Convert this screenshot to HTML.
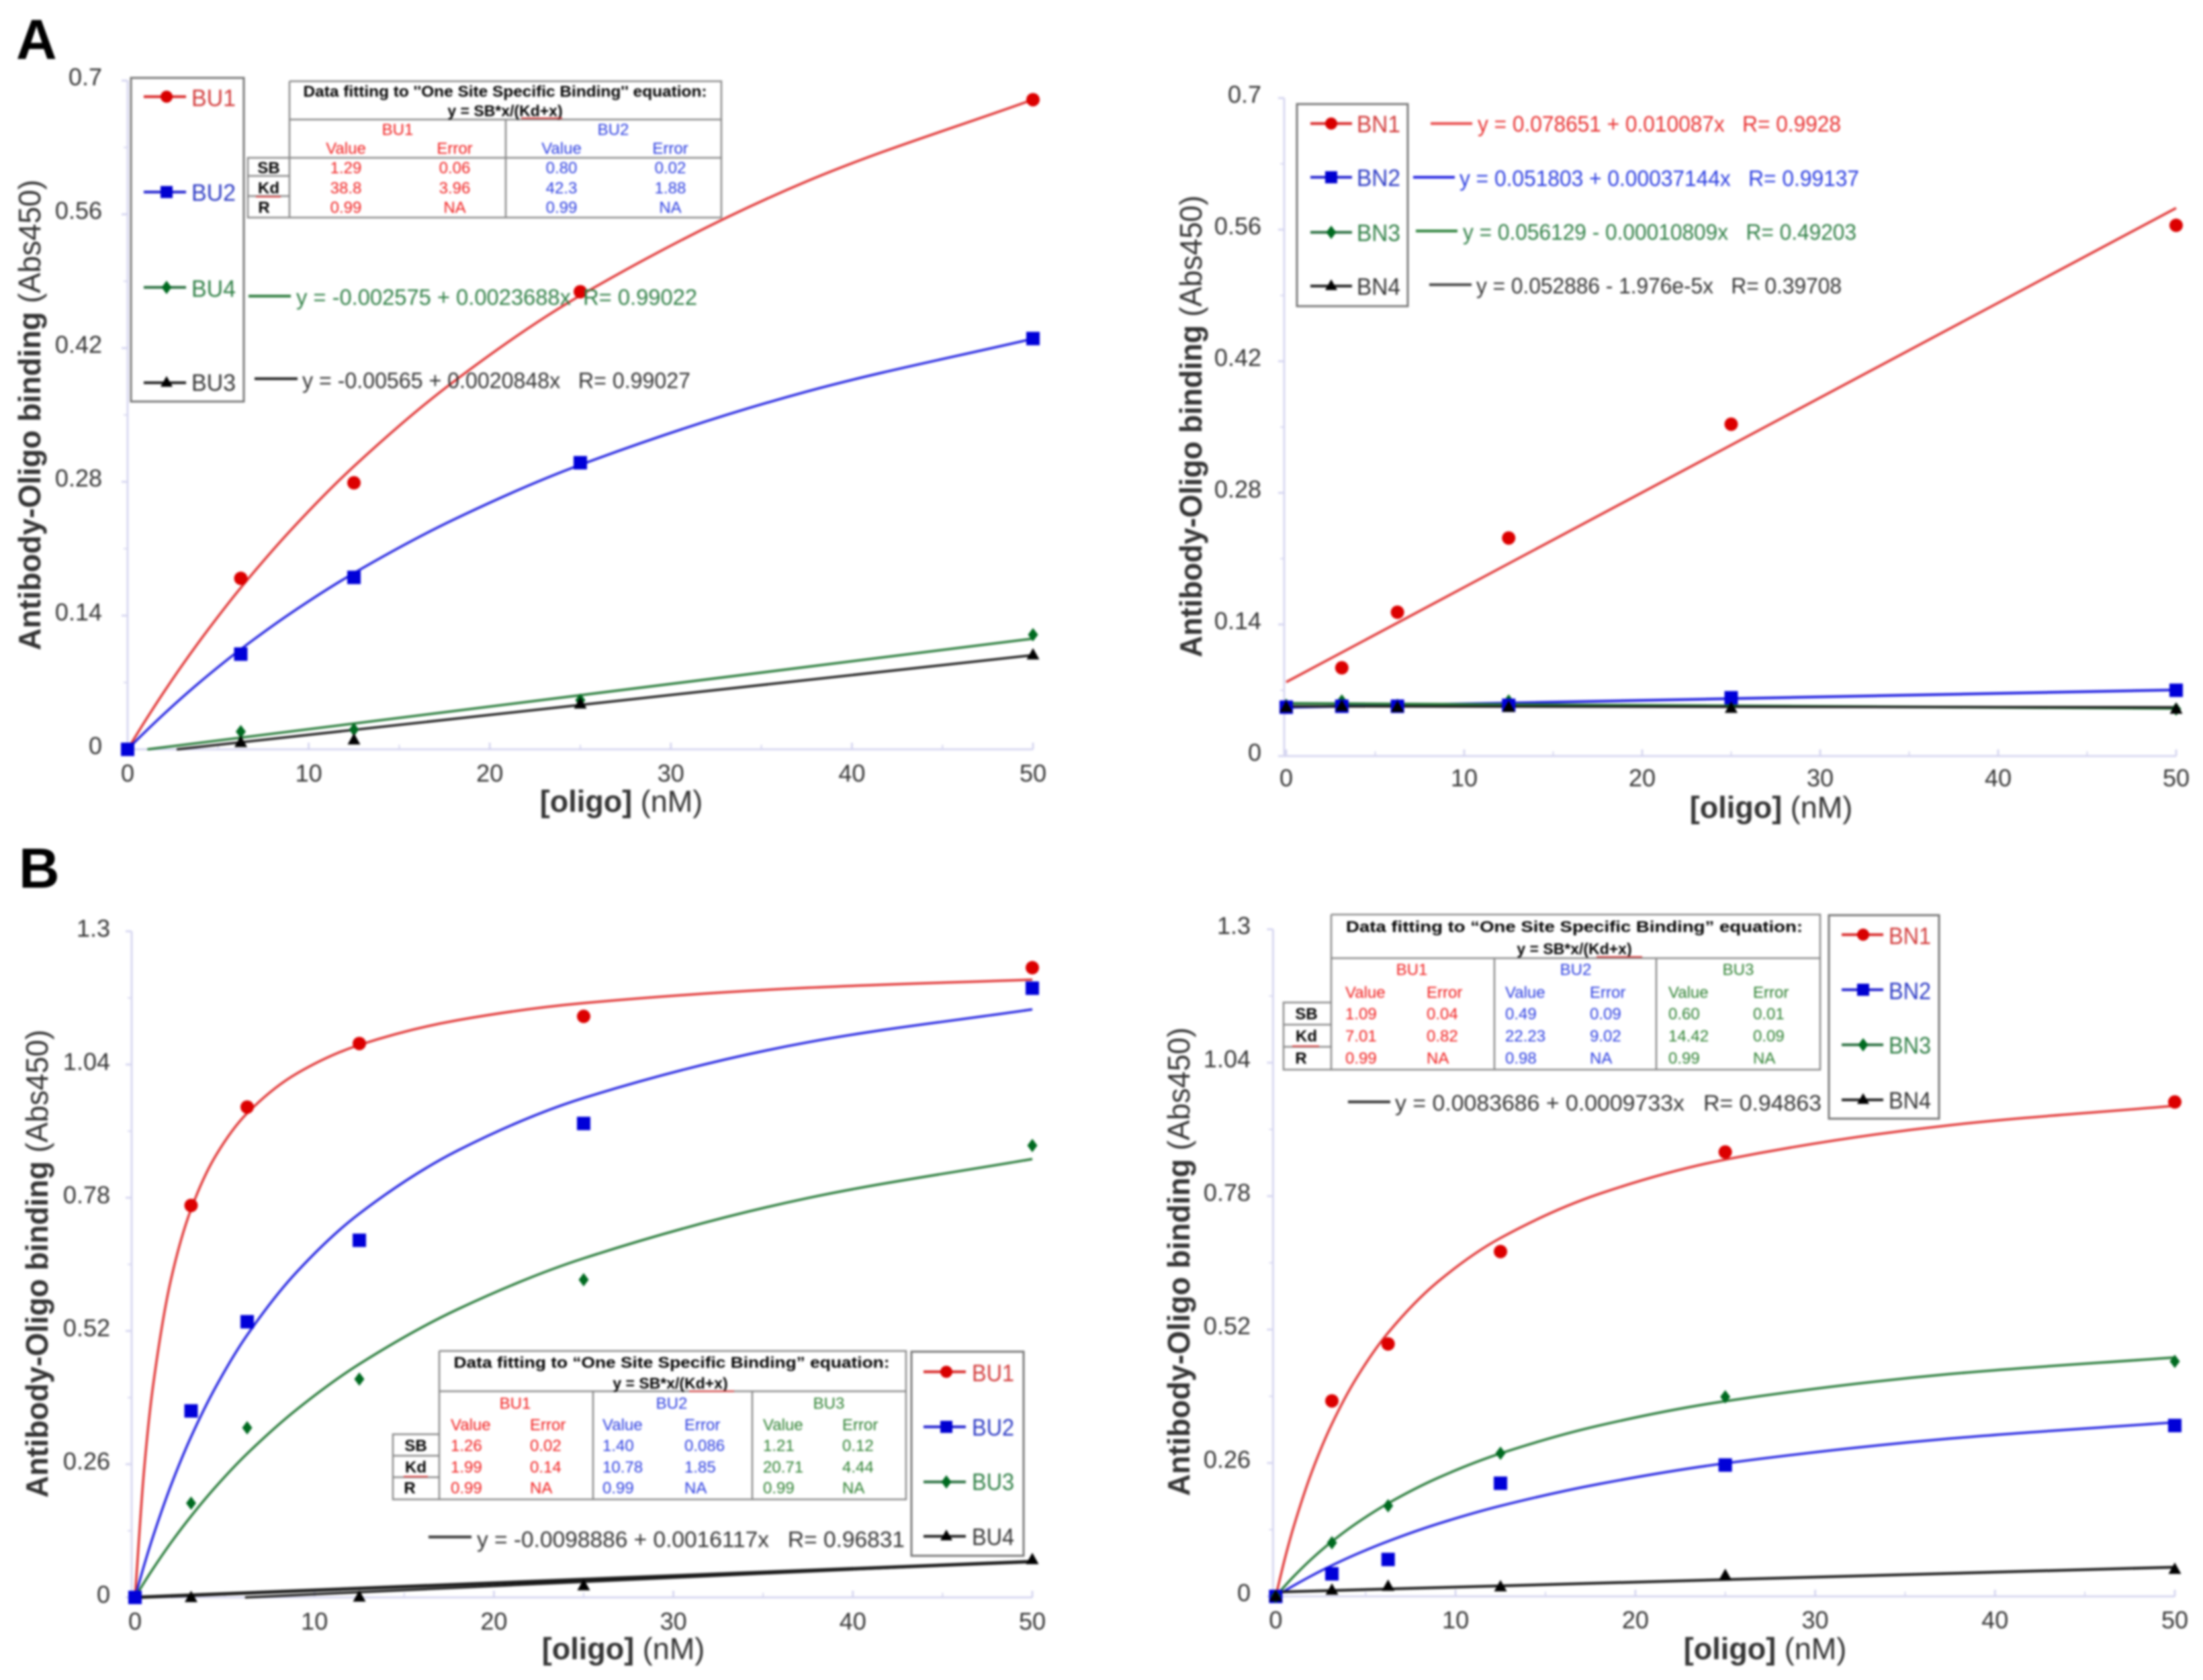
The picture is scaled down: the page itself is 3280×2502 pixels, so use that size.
<!DOCTYPE html>
<html>
<head>
<meta charset="utf-8">
<title>Antibody-Oligo binding charts</title>
<style>
html,body{margin:0;padding:0;background:#fff;}
svg{display:block;filter:blur(1.5px);}
text{font-family:"Liberation Sans",sans-serif;fill:#333;white-space:pre;}
.tick{font-size:36px;}
.axt{font-size:45px;}
.ylab{font-size:46px;}
.leg{font-size:35px;}
.eq{font-size:33px;}
.tb{font-size:24px;}
.ttl{font-size:23px;font-weight:bold;fill:#000;}
.hdr{font-size:24px;font-weight:bold;fill:#000;}
.r{fill:#f01c1c;}
.b{fill:#2a3ce0;}
.g{fill:#2c8030;}
.lr{fill:#d23a3a;}
.lb{fill:#2c3ac4;}
.lg{fill:#2f7f45;}
.tl{stroke:#888;stroke-width:2.5;fill:none;}
.box{fill:#fff;stroke:#777;stroke-width:3;}
.sq{stroke:#d33;stroke-width:2;}
</style>
</head>
<body>
<svg xmlns="http://www.w3.org/2000/svg" width="3280" height="2502" viewBox="0 0 3280 2502">
<rect width="3280" height="2502" fill="#fff"/>

<text x="24" y="88" font-size="84" font-weight="bold" style="fill:#000">A</text>
<text x="28" y="1322" font-size="84" font-weight="bold" style="fill:#000">B</text>

<g id="chart-a-left"></g>
<g id="chart-a-right"></g>
<g id="chart-b-left"></g>
<g id="chart-b-right"></g>

<!-- Axis titles -->
<text class="axt" x="925" y="1209" text-anchor="middle"><tspan font-weight="bold">[oligo]</tspan> (nM)</text>
<text class="axt" x="2637" y="1218" text-anchor="middle"><tspan font-weight="bold">[oligo]</tspan> (nM)</text>
<text class="axt" x="928" y="2471" text-anchor="middle"><tspan font-weight="bold">[oligo]</tspan> (nM)</text>
<text class="axt" x="2628" y="2471" text-anchor="middle"><tspan font-weight="bold">[oligo]</tspan> (nM)</text>

<text class="ylab" transform="translate(60 618) rotate(-90)" text-anchor="middle" textLength="701" lengthAdjust="spacingAndGlyphs"><tspan font-weight="bold">Antibody-Oligo binding</tspan> (Abs450)</text>
<text class="ylab" transform="translate(1789 635) rotate(-90)" text-anchor="middle" textLength="688" lengthAdjust="spacingAndGlyphs"><tspan font-weight="bold">Antibody-Oligo binding</tspan> (Abs450)</text>
<text class="ylab" transform="translate(71 1882) rotate(-90)" text-anchor="middle" textLength="697" lengthAdjust="spacingAndGlyphs"><tspan font-weight="bold">Antibody-Oligo binding</tspan> (Abs450)</text>
<text class="ylab" transform="translate(1771 1879) rotate(-90)" text-anchor="middle" textLength="698" lengthAdjust="spacingAndGlyphs"><tspan font-weight="bold">Antibody-Oligo binding</tspan> (Abs450)</text>

<!-- Legend A left -->
<g>
<rect class="box" x="195" y="116" width="168" height="482"/>
<g><line x1="214" x2="277" y1="144" y2="144" stroke="#d82a2a" stroke-width="4"/><circle cx="248" cy="144" r="9" fill="#d80000"/><text class="leg lr" x="285" y="158" textLength="66" lengthAdjust="spacingAndGlyphs">BU1</text></g>
<g><line x1="214" x2="277" y1="286" y2="286" stroke="#2222d0" stroke-width="4"/><rect x="239" y="277" width="18" height="18" fill="#0000d0"/><text class="leg lb" x="285" y="299" textLength="66" lengthAdjust="spacingAndGlyphs">BU2</text></g>
<g><line x1="214" x2="277" y1="428" y2="428" stroke="#2a7040" stroke-width="4"/><path d="M248 418l7.5 10-7.5 10-7.5-10z" fill="#006a20"/><text class="leg lg" x="285" y="442" textLength="66" lengthAdjust="spacingAndGlyphs">BU4</text></g>
<g><line x1="214" x2="277" y1="570" y2="570" stroke="#222" stroke-width="4"/><path d="M248 560l9 16h-18z" fill="#000"/><text class="leg" x="285" y="582" textLength="66" lengthAdjust="spacingAndGlyphs">BU3</text></g>
</g>

<!-- Equations A left -->
<g><line x1="370" x2="433" y1="441" y2="441" stroke="#2a7a3a" stroke-width="4"/><text class="eq lg" x="441" y="454" textLength="597" lengthAdjust="spacingAndGlyphs">y = -0.002575 + 0.0023688x  R= 0.99022</text></g>
<g><line x1="379" x2="443" y1="564" y2="564" stroke="#222" stroke-width="4"/><text class="eq" x="450" y="578" textLength="578" lengthAdjust="spacingAndGlyphs">y = -0.00565 + 0.0020848x   R= 0.99027</text></g>

<!-- Table A left -->
<g>
<rect x="431" y="121" width="643" height="203" fill="#fff"/>
<rect x="369" y="235" width="62" height="89" fill="#fff"/>
<path class="tl" d="M431 121H1074V324H369V235H1074M431 178H1074M431 121V324M753 178V324M369 262H431M369 292H431"/>
<text class="ttl" x="752" y="144" text-anchor="middle" textLength="601" lengthAdjust="spacingAndGlyphs">Data fitting to ''One Site Specific Binding'' equation:</text>
<text class="ttl" x="752" y="173" text-anchor="middle">y = SB*x/(Kd+x)</text>
<line class="sq" x1="776" x2="837" y1="176" y2="176"/>
<line class="sq" x1="381" x2="418" y1="293" y2="293"/>
<text class="tb r" x="592" y="201" text-anchor="middle">BU1</text>
<text class="tb b" x="913" y="201" text-anchor="middle">BU2</text>
<g text-anchor="middle">
<text class="tb r" x="515" y="229">Value</text>
<text class="tb r" x="677" y="229">Error</text>
<text class="tb b" x="836" y="229">Value</text>
<text class="tb b" x="998" y="229">Error</text>
<text class="hdr" x="400" y="258">SB</text>
<text class="hdr" x="400" y="288">Kd</text>
<text class="hdr" x="393" y="317">R</text>
<text class="tb r" x="515" y="258">1.29</text>
<text class="tb r" x="677" y="258">0.06</text>
<text class="tb b" x="836" y="258">0.80</text>
<text class="tb b" x="998" y="258">0.02</text>
<text class="tb r" x="515" y="288">38.8</text>
<text class="tb r" x="677" y="288">3.96</text>
<text class="tb b" x="836" y="288">42.3</text>
<text class="tb b" x="998" y="288">1.88</text>
<text class="tb r" x="515" y="317">0.99</text>
<text class="tb r" x="677" y="317">NA</text>
<text class="tb b" x="836" y="317">0.99</text>
<text class="tb b" x="998" y="317">NA</text>
</g>
</g>

<!-- Legend A right -->
<g>
<rect class="box" x="1931" y="155" width="165" height="301"/>
<g><line x1="1951" x2="2013" y1="184" y2="184" stroke="#d82a2a" stroke-width="4"/><circle cx="1982" cy="184" r="9" fill="#d80000"/><text class="leg lr" x="2020" y="197" textLength="65" lengthAdjust="spacingAndGlyphs">BN1</text></g>
<g><line x1="1951" x2="2013" y1="264" y2="264" stroke="#2222d0" stroke-width="4"/><rect x="1973" y="255" width="18" height="18" fill="#0000d0"/><text class="leg lb" x="2020" y="277" textLength="65" lengthAdjust="spacingAndGlyphs">BN2</text></g>
<g><line x1="1951" x2="2013" y1="346" y2="346" stroke="#2a7040" stroke-width="4"/><path d="M1982 336l7.5 10-7.5 10-7.5-10z" fill="#006a20"/><text class="leg lg" x="2020" y="359" textLength="65" lengthAdjust="spacingAndGlyphs">BN3</text></g>
<g><line x1="1951" x2="2013" y1="426" y2="426" stroke="#222" stroke-width="4"/><path d="M1982 416l9 16h-18z" fill="#000"/><text class="leg" x="2020" y="439" textLength="65" lengthAdjust="spacingAndGlyphs">BN4</text></g>
</g>
<g><line x1="2130" x2="2192" y1="184" y2="184" stroke="#e84a4a" stroke-width="4"/><text class="eq" style="fill:#e83030" x="2200" y="196" textLength="541" lengthAdjust="spacingAndGlyphs">y = 0.078651 + 0.010087x   R= 0.9928</text></g>
<g><line x1="2104" x2="2166" y1="264" y2="264" stroke="#2222e0" stroke-width="4"/><text class="eq" style="fill:#2a3ce0" x="2173" y="277" textLength="595" lengthAdjust="spacingAndGlyphs">y = 0.051803 + 0.00037144x   R= 0.99137</text></g>
<g><line x1="2108" x2="2170" y1="344" y2="344" stroke="#2a8038" stroke-width="4"/><text class="eq lg" x="2178" y="357" textLength="586" lengthAdjust="spacingAndGlyphs">y = 0.056129 - 0.00010809x   R= 0.49203</text></g>
<g><line x1="2128" x2="2191" y1="424" y2="424" stroke="#444" stroke-width="4"/><text class="eq" x="2198" y="437" textLength="544" lengthAdjust="spacingAndGlyphs">y = 0.052886 - 1.976e-5x   R= 0.39708</text></g>

<!-- Table B left -->
<g>
<rect x="654" y="2012" width="695" height="221" fill="#fff"/>
<path class="tl" d="M654 2012H1349V2233H585V2136H654M654 2072H1349M654 2012V2233M883 2072V2233M1120 2072V2233M585 2168H654M585 2200H654"/>
<text class="ttl" x="1000" y="2037" text-anchor="middle" textLength="649" lengthAdjust="spacingAndGlyphs">Data fitting to “One Site Specific Binding” equation:</text>
<text class="ttl" x="998" y="2068" text-anchor="middle">y = SB*x/(Kd+x)</text>
<line class="sq" x1="1026" x2="1093" y1="2072" y2="2072"/>
<line class="sq" x1="601" x2="637" y1="2199" y2="2199"/>
<text class="tb r" x="767" y="2098" text-anchor="middle">BU1</text>
<text class="tb b" x="1000" y="2098" text-anchor="middle">BU2</text>
<text class="tb g" x="1234" y="2098" text-anchor="middle">BU3</text>
<text class="tb r" x="671" y="2130">Value</text>
<text class="tb r" x="789" y="2130">Error</text>
<text class="tb b" x="897" y="2130">Value</text>
<text class="tb b" x="1019" y="2130">Error</text>
<text class="tb g" x="1136" y="2130">Value</text>
<text class="tb g" x="1254" y="2130">Error</text>
<text class="hdr" x="619" y="2161" text-anchor="middle">SB</text>
<text class="hdr" x="619" y="2193" text-anchor="middle">Kd</text>
<text class="hdr" x="610" y="2224" text-anchor="middle">R</text>
<text class="tb r" x="671" y="2161">1.26</text>
<text class="tb r" x="789" y="2161">0.02</text>
<text class="tb b" x="897" y="2161">1.40</text>
<text class="tb b" x="1019" y="2161">0.086</text>
<text class="tb g" x="1136" y="2161">1.21</text>
<text class="tb g" x="1254" y="2161">0.12</text>
<text class="tb r" x="671" y="2193">1.99</text>
<text class="tb r" x="789" y="2193">0.14</text>
<text class="tb b" x="897" y="2193">10.78</text>
<text class="tb b" x="1019" y="2193">1.85</text>
<text class="tb g" x="1136" y="2193">20.71</text>
<text class="tb g" x="1254" y="2193">4.44</text>
<text class="tb r" x="671" y="2224">0.99</text>
<text class="tb r" x="789" y="2224">NA</text>
<text class="tb b" x="897" y="2224">0.99</text>
<text class="tb b" x="1019" y="2224">NA</text>
<text class="tb g" x="1136" y="2224">0.99</text>
<text class="tb g" x="1254" y="2224">NA</text>
</g>
<g><line x1="638" x2="702" y1="2289" y2="2289" stroke="#333" stroke-width="4"/><text class="eq" x="710" y="2304" textLength="637" lengthAdjust="spacingAndGlyphs">y = -0.0098886 + 0.0016117x   R= 0.96831</text></g>

<!-- Legend B left -->
<g>
<rect class="box" x="1357" y="2013" width="167" height="304"/>
<g><line x1="1375" x2="1438" y1="2043" y2="2043" stroke="#d82a2a" stroke-width="4"/><circle cx="1409" cy="2043" r="9" fill="#d80000"/><text class="leg lr" x="1447" y="2057" textLength="63" lengthAdjust="spacingAndGlyphs">BU1</text></g>
<g><line x1="1375" x2="1438" y1="2125" y2="2125" stroke="#2222d0" stroke-width="4"/><rect x="1400" y="2116" width="18" height="18" fill="#0000d0"/><text class="leg lb" x="1447" y="2138" textLength="63" lengthAdjust="spacingAndGlyphs">BU2</text></g>
<g><line x1="1375" x2="1438" y1="2207" y2="2207" stroke="#2a7040" stroke-width="4"/><path d="M1409 2197l7.5 10-7.5 10-7.5-10z" fill="#006a20"/><text class="leg lg" x="1447" y="2219" textLength="63" lengthAdjust="spacingAndGlyphs">BU3</text></g>
<g><line x1="1375" x2="1438" y1="2288" y2="2288" stroke="#222" stroke-width="4"/><path d="M1409 2278l9 16h-18z" fill="#000"/><text class="leg" x="1447" y="2301" textLength="63" lengthAdjust="spacingAndGlyphs">BU4</text></g>
</g>

<!-- Table B right -->
<g>
<rect x="1982" y="1362" width="728" height="231" fill="#fff"/>
<path class="tl" d="M1982 1362H2710V1593H1911V1493H1982M1982 1427H2710M1982 1362V1593M2225 1427V1593M2466 1427V1593M1911 1526H1982M1911 1559H1982"/>
<text class="ttl" x="2344" y="1388" text-anchor="middle" textLength="680" lengthAdjust="spacingAndGlyphs">Data fitting to “One Site Specific Binding” equation:</text>
<text class="ttl" x="2344" y="1421" text-anchor="middle">y = SB*x/(Kd+x)</text>
<line class="sq" x1="2377" x2="2445" y1="1425" y2="1425"/>
<line class="sq" x1="1924" x2="1964" y1="1558" y2="1558"/>
<text class="tb r" x="2102" y="1452" text-anchor="middle">BU1</text>
<text class="tb b" x="2346" y="1452" text-anchor="middle">BU2</text>
<text class="tb g" x="2588" y="1452" text-anchor="middle">BU3</text>
<text class="tb r" x="2003" y="1486">Value</text>
<text class="tb r" x="2124" y="1486">Error</text>
<text class="tb b" x="2241" y="1486">Value</text>
<text class="tb b" x="2367" y="1486">Error</text>
<text class="tb g" x="2484" y="1486">Value</text>
<text class="tb g" x="2610" y="1486">Error</text>
<text class="hdr" x="1945" y="1518" text-anchor="middle">SB</text>
<text class="hdr" x="1945" y="1551" text-anchor="middle">Kd</text>
<text class="hdr" x="1937" y="1584" text-anchor="middle">R</text>
<text class="tb r" x="2003" y="1518">1.09</text>
<text class="tb r" x="2124" y="1518">0.04</text>
<text class="tb b" x="2241" y="1518">0.49</text>
<text class="tb b" x="2367" y="1518">0.09</text>
<text class="tb g" x="2484" y="1518">0.60</text>
<text class="tb g" x="2610" y="1518">0.01</text>
<text class="tb r" x="2003" y="1551">7.01</text>
<text class="tb r" x="2124" y="1551">0.82</text>
<text class="tb b" x="2241" y="1551">22.23</text>
<text class="tb b" x="2367" y="1551">9.02</text>
<text class="tb g" x="2484" y="1551">14.42</text>
<text class="tb g" x="2610" y="1551">0.09</text>
<text class="tb r" x="2003" y="1584">0.99</text>
<text class="tb r" x="2124" y="1584">NA</text>
<text class="tb b" x="2241" y="1584">0.98</text>
<text class="tb b" x="2367" y="1584">NA</text>
<text class="tb g" x="2484" y="1584">0.99</text>
<text class="tb g" x="2610" y="1584">NA</text>
</g>
<g><line x1="2007" x2="2070" y1="1641" y2="1641" stroke="#333" stroke-width="4"/><text class="eq" x="2077" y="1654" textLength="635" lengthAdjust="spacingAndGlyphs">y = 0.0083686 + 0.0009733x   R= 0.94863</text></g>

<!-- Legend B right -->
<g>
<rect class="box" x="2723" y="1363" width="164" height="303"/>
<g><line x1="2742" x2="2804" y1="1392" y2="1392" stroke="#d82a2a" stroke-width="4"/><circle cx="2774" cy="1392" r="9" fill="#d80000"/><text class="leg lr" x="2812" y="1406" textLength="63" lengthAdjust="spacingAndGlyphs">BN1</text></g>
<g><line x1="2742" x2="2804" y1="1474" y2="1474" stroke="#2222d0" stroke-width="4"/><rect x="2765" y="1465" width="18" height="18" fill="#0000d0"/><text class="leg lb" x="2812" y="1488" textLength="63" lengthAdjust="spacingAndGlyphs">BN2</text></g>
<g><line x1="2742" x2="2804" y1="1556" y2="1556" stroke="#2a7040" stroke-width="4"/><path d="M2774 1546l7.5 10-7.5 10-7.5-10z" fill="#006a20"/><text class="leg lg" x="2812" y="1569" textLength="63" lengthAdjust="spacingAndGlyphs">BN3</text></g>
<g><line x1="2742" x2="2804" y1="1638" y2="1638" stroke="#222" stroke-width="4"/><path d="M2774 1628l9 16h-18z" fill="#000"/><text class="leg" x="2812" y="1651" textLength="63" lengthAdjust="spacingAndGlyphs">BN4</text></g>
</g>
</svg>

<script>
// ---------- shared tick labels ----------
const xTickLabels = [0, 10, 20, 30, 40, 50];
const xMinorTicks = [5, 15, 25, 35, 45];
const yTickLabelsA = ['0', '0.14', '0.28', '0.42', '0.56', '0.7'];
const yTickValuesA = [0, 0.14, 0.28, 0.42, 0.56, 0.7];
const yMinorTicksA = [0.07, 0.21, 0.35, 0.49, 0.63];
const yTickLabelsB = ['0', '0.26', '0.52', '0.78', '1.04', '1.3'];
const yTickValuesB = [0, 0.26, 0.52, 0.78, 1.04, 1.3];
const yMinorTicksB = [0.13, 0.39, 0.65, 0.91, 1.17];

// ---------- concentrations ----------
const concA = [0, 6.25, 12.5, 25, 50];
const concFull = [0, 3.125, 6.25, 12.5, 25, 50];
const fitConc = [0, 0.5, 1, 2, 3.125, 4.5, 6.25, 9, 12.5, 18, 25, 37.5, 50];

// ---------- panel A left, measured points ----------
const aLeftBU1 = [0, 0.179, 0.279, 0.479, 0.680];
const aLeftBU2 = [0, 0.0997, 0.180, 0.300, 0.430];
const aLeftBU4 = [0, 0.0185, 0.0207, 0.0515, 0.120];
const aLeftBU3 = [0, 0.0073, 0.010, 0.0476, 0.099];
// panel A left, fit traces
const aLeftBU1Fit = [0, 0.0155, 0.0307, 0.0599, 0.0910, 0.1267, 0.1691, 0.2292, 0.2963, 0.3848, 0.4750, 0.5945, 0.6801];
const aLeftBU2Fit = [0, 0.0096, 0.0189, 0.0369, 0.0562, 0.0784, 0.1048, 0.1424, 0.1845, 0.2404, 0.2978, 0.3745, 0.4298];
const aLeftBU4FitX = [1.09, 50];
const aLeftBU4FitY = [0, 0.1159];
const aLeftBU3FitX = [2.71, 50];
const aLeftBU3FitY = [0, 0.0986];

// ---------- panel A right ----------
const aRightBN1 = [0.052, 0.0939, 0.153, 0.232, 0.353, 0.5646];
const aRightBN2 = [0.052, 0.053, 0.053, 0.054, 0.062, 0.070];
const aRightBN3 = [0.054, 0.0586, 0.054, 0.0586, 0.054, 0.050];
const aRightBN4 = [0.052, 0.053, 0.052, 0.052, 0.051, 0.050];
const lineEnds = [0, 50];
const aRightBN1Fit = [0.0787, 0.5830];
const aRightBN2Fit = [0.0518, 0.0704];
const aRightBN3Fit = [0.0561, 0.0507];
const aRightBN4Fit = [0.0529, 0.0519];

// ---------- panel B left ----------
const bLeftBU1 = [0, 0.765, 0.957, 1.081, 1.134, 1.229];
const bLeftBU2 = [0, 0.364, 0.538, 0.697, 0.925, 1.189];
const bLeftBU3 = [0, 0.184, 0.331, 0.426, 0.620, 0.882];
const bLeftBU4 = [0, 0, null, 0.001, 0.023, 0.074];
const bLeftBU1Fit = [0, 0.2461, 0.4115, 0.6198, 0.7578, 0.8622, 0.9450, 1.0222, 1.0782, 1.1267, 1.1599, 1.1899, 1.2056];
const bLeftBU2Fit = [0, 0.0618, 0.1184, 0.2183, 0.3135, 0.4108, 0.5120, 0.6347, 0.7490, 0.8725, 0.9747, 1.0835, 1.1476];
const bLeftBU3Fit = [0, 0.0285, 0.0557, 0.1066, 0.1586, 0.2160, 0.2806, 0.3665, 0.4554, 0.5627, 0.6618, 0.7795, 0.8556];
const bLeftBU4Fit = [0, 0.070];
const bLeftBU4Line2X = [6.13, 50];
const bLeftBU4Line2Y = [0, 0.0707];

// ---------- panel B right ----------
const bRightBN1 = [0, 0.381, 0.492, 0.672, 0.866, 0.9635];
const bRightBN2 = [0, 0.044, 0.072, 0.2205, 0.256, 0.333];
const bRightBN3 = [0, 0.1045, 0.1766, 0.279, 0.389, 0.458];
const bRightBN4 = [0, 0.0125, 0.020, 0.019, 0.041, 0.053];
const bRightBN1Fit = [0, 0.0726, 0.1361, 0.2420, 0.3361, 0.4261, 0.5138, 0.6127, 0.6984, 0.7845, 0.8513, 0.9183, 0.9560];
const bRightBN2Fit = [0, 0.0108, 0.0211, 0.0404, 0.0604, 0.0825, 0.1075, 0.1412, 0.1764, 0.2192, 0.2594, 0.3076, 0.3392];
const bRightBN3Fit = [0, 0.0201, 0.0389, 0.0731, 0.1069, 0.1427, 0.1814, 0.2306, 0.2786, 0.3331, 0.3805, 0.4334, 0.4657];
const bRightBN4Fit = [0.0084, 0.0570];

const SVGNS = 'http://www.w3.org/2000/svg';
const RED = '#dc0000', BLUE = '#0000d8', GREEN = '#006a20', BLACK = '#000000';
const RED_L = '#e03434', BLUE_L = '#2222e0', GREEN_L = '#267a38', BLACK_L = '#1a1a1a';

function make(tag, attrs) {
  const el = document.createElementNS(SVGNS, tag);
  for (const k in attrs) el.setAttribute(k, attrs[k]);
  return el;
}

function monotonePath(pts) {
  const n = pts.length;
  if (n === 2) return 'M' + pts[0][0] + ' ' + pts[0][1] + 'L' + pts[1][0] + ' ' + pts[1][1];
  const dx = [], s = [], t = [];
  for (let i = 0; i < n - 1; i++) {
    dx[i] = pts[i + 1][0] - pts[i][0];
    s[i] = (pts[i + 1][1] - pts[i][1]) / dx[i];
  }
  t[0] = s[0];
  t[n - 1] = s[n - 2];
  for (let i = 1; i < n - 1; i++) {
    t[i] = s[i - 1] * s[i] <= 0 ? 0 : 2 * s[i - 1] * s[i] / (s[i - 1] + s[i]);
  }
  let d = 'M' + pts[0][0].toFixed(2) + ' ' + pts[0][1].toFixed(2);
  for (let i = 0; i < n - 1; i++) {
    const h = dx[i] / 3;
    d += 'C' + (pts[i][0] + h).toFixed(2) + ' ' + (pts[i][1] + h * t[i]).toFixed(2) + ' ' +
      (pts[i + 1][0] - h).toFixed(2) + ' ' + (pts[i + 1][1] - h * t[i + 1]).toFixed(2) + ' ' +
      pts[i + 1][0].toFixed(2) + ' ' + pts[i + 1][1].toFixed(2);
  }
  return d;
}

function addMarker(parent, shape, color, cx, cy, label) {
  let m;
  if (shape === 'circle') {
    m = make('circle', { cx: cx, cy: cy, r: 10, fill: color });
  } else if (shape === 'square') {
    m = make('rect', { x: cx - 10, y: cy - 10, width: 20, height: 20, fill: color });
  } else if (shape === 'diamond') {
    m = make('path', { d: 'M' + cx + ' ' + (cy - 10) + 'l7.5 10-7.5 10-7.5-10z', fill: color });
  } else {
    m = make('path', { d: 'M' + cx + ' ' + (cy - 10) + 'l9.5 17h-19z', fill: color });
  }
  
  
  parent.appendChild(m);
}

function drawPanel(id, frame, yTicks, yLabels, yMinor, fits, series) {
  const g = document.getElementById(id);
  const sx = v => frame.x0 + (frame.x50 - frame.x0) * v / 50;
  const sy = v => frame.y0 - (frame.y0 - frame.yTop) * v / frame.yMax;
  const axisColor = '#d6d6f0';
  const yAxisX = frame.x0 - frame.yAxisOffset;

  const yAxis = make('line', { x1: yAxisX, x2: yAxisX, y1: sy(frame.yMax), y2: frame.y0, stroke: axisColor, 'stroke-width': 3 });
  
  
  g.appendChild(yAxis);

  const xAxis = make('line', { x1: yAxisX, x2: sx(50), y1: frame.y0, y2: frame.y0, stroke: axisColor, 'stroke-width': 3 });
  
  
  g.appendChild(xAxis);

  yTicks.forEach((v, i) => {
    const tick = make('line', { x1: yAxisX - 9, x2: yAxisX, y1: sy(v), y2: sy(v), stroke: axisColor, 'stroke-width': 3 });
    
    
    g.appendChild(tick);
    const lab = make('text', { class: 'tick', x: frame.yLabelRight, y: sy(v) + frame.labelDy, 'text-anchor': 'end' });
    lab.textContent = yLabels[i];
    
    
    g.appendChild(lab);
  });
  yMinor.forEach(v => {
    const tick = make('line', { x1: yAxisX - 6, x2: yAxisX, y1: sy(v), y2: sy(v), stroke: axisColor, 'stroke-width': 2 });
    
    
    g.appendChild(tick);
  });
  xTickLabels.forEach(v => {
    const tick = make('line', { x1: sx(v), x2: sx(v), y1: frame.y0, y2: frame.y0 - 10, stroke: axisColor, 'stroke-width': 3 });
    
    
    g.appendChild(tick);
    const lab = make('text', { class: 'tick', x: sx(v), y: frame.xLabelBase, 'text-anchor': 'middle' });
    lab.textContent = String(v);
    
    
    g.appendChild(lab);
  });
  xMinorTicks.forEach(v => {
    const tick = make('line', { x1: sx(v), x2: sx(v), y1: frame.y0, y2: frame.y0 - 7, stroke: axisColor, 'stroke-width': 2 });
    
    
    g.appendChild(tick);
  });

  fits.forEach(f => {
    const pts = f.x.map((v, i) => [sx(v), sy(f.y[i])]);
    const line = make('path', { d: monotonePath(pts), fill: 'none', stroke: f.color, 'stroke-width': f.width || 3.5 });
    
    
    g.appendChild(line);
  });

  series.forEach(s => {
    s.y.forEach((v, i) => {
      if (v === null) return;
      addMarker(g, s.shape, s.color, sx(s.x[i]), sy(v), s.name + '-point');
    });
  });
}

drawPanel('chart-a-left',
  { x0: 190, x50: 1538, y0: 1116, yTop: 120, yMax: 0.7, yAxisOffset: 0, yLabelRight: 152, xLabelBase: 1164, labelDy: 7 },
  yTickValuesA, yTickLabelsA, yMinorTicksA,
  [
    { name: 'bu1', x: fitConc, y: aLeftBU1Fit, color: RED_L },
    { name: 'bu2', x: fitConc, y: aLeftBU2Fit, color: BLUE_L },
    { name: 'bu4', x: aLeftBU4FitX, y: aLeftBU4FitY, color: GREEN_L },
    { name: 'bu3', x: aLeftBU3FitX, y: aLeftBU3FitY, color: BLACK_L }
  ],
  [
    { name: 'bu4', x: concA, y: aLeftBU4, color: GREEN, shape: 'diamond' },
    { name: 'bu3', x: concA, y: aLeftBU3, color: BLACK, shape: 'triangle' },
    { name: 'bu1', x: concA, y: aLeftBU1, color: RED, shape: 'circle' },
    { name: 'bu2', x: concA, y: aLeftBU2, color: BLUE, shape: 'square' }
  ]);

drawPanel('chart-a-right',
  { x0: 1915, x50: 3240, y0: 1126, yTop: 146, yMax: 0.7, yAxisOffset: 3, yLabelRight: 1878, xLabelBase: 1171, labelDy: 7 },
  yTickValuesA, yTickLabelsA, yMinorTicksA,
  [
    { name: 'bn1', x: lineEnds, y: aRightBN1Fit, color: RED_L },
    { name: 'bn2', x: lineEnds, y: aRightBN2Fit, color: BLUE_L, width: 4 },
    { name: 'bn3', x: lineEnds, y: aRightBN3Fit, color: GREEN_L, width: 4 },
    { name: 'bn4', x: lineEnds, y: aRightBN4Fit, color: BLACK_L }
  ],
  [
    { name: 'bn1', x: concFull, y: aRightBN1, color: RED, shape: 'circle' },
    { name: 'bn3', x: concFull, y: aRightBN3, color: GREEN, shape: 'diamond' },
    { name: 'bn2', x: concFull, y: aRightBN2, color: BLUE, shape: 'square' },
    { name: 'bn4', x: concFull, y: aRightBN4, color: BLACK, shape: 'triangle' }
  ]);

drawPanel('chart-b-left',
  { x0: 201, x50: 1537, y0: 2379, yTop: 1387, yMax: 1.3, yAxisOffset: 5, yLabelRight: 164, xLabelBase: 2427, labelDy: 8 },
  yTickValuesB, yTickLabelsB, yMinorTicksB,
  [
    { name: 'bu1', x: fitConc, y: bLeftBU1Fit, color: RED_L },
    { name: 'bu2', x: fitConc, y: bLeftBU2Fit, color: BLUE_L },
    { name: 'bu3', x: fitConc, y: bLeftBU3Fit, color: GREEN_L },
    { name: 'bu4', x: lineEnds, y: bLeftBU4Fit, color: BLACK_L, width: 5 },
    { name: 'bu4-linear', x: bLeftBU4Line2X, y: bLeftBU4Line2Y, color: BLACK_L, width: 3.5 }
  ],
  [
    { name: 'bu4', x: concFull, y: bLeftBU4, color: BLACK, shape: 'triangle' },
    { name: 'bu3', x: concFull, y: bLeftBU3, color: GREEN, shape: 'diamond' },
    { name: 'bu1', x: concFull, y: bLeftBU1, color: RED, shape: 'circle' },
    { name: 'bu2', x: concFull, y: bLeftBU2, color: BLUE, shape: 'square' }
  ]);

drawPanel('chart-b-right',
  { x0: 1899.4, x50: 3238, y0: 2377.5, yTop: 1384, yMax: 1.3, yAxisOffset: 4, yLabelRight: 1862, xLabelBase: 2425, labelDy: 7 },
  yTickValuesB, yTickLabelsB, yMinorTicksB,
  [
    { name: 'bn1', x: fitConc, y: bRightBN1Fit, color: RED_L },
    { name: 'bn2', x: fitConc, y: bRightBN2Fit, color: BLUE_L },
    { name: 'bn3', x: fitConc, y: bRightBN3Fit, color: GREEN_L },
    { name: 'bn4', x: lineEnds, y: bRightBN4Fit, color: BLACK_L, width: 4 }
  ],
  [
    { name: 'bn1', x: concFull, y: bRightBN1, color: RED, shape: 'circle' },
    { name: 'bn2', x: concFull, y: bRightBN2, color: BLUE, shape: 'square' },
    { name: 'bn3', x: concFull, y: bRightBN3, color: GREEN, shape: 'diamond' },
    { name: 'bn4', x: concFull, y: bRightBN4, color: BLACK, shape: 'triangle' }
  ]);
</script>
</body>
</html>
